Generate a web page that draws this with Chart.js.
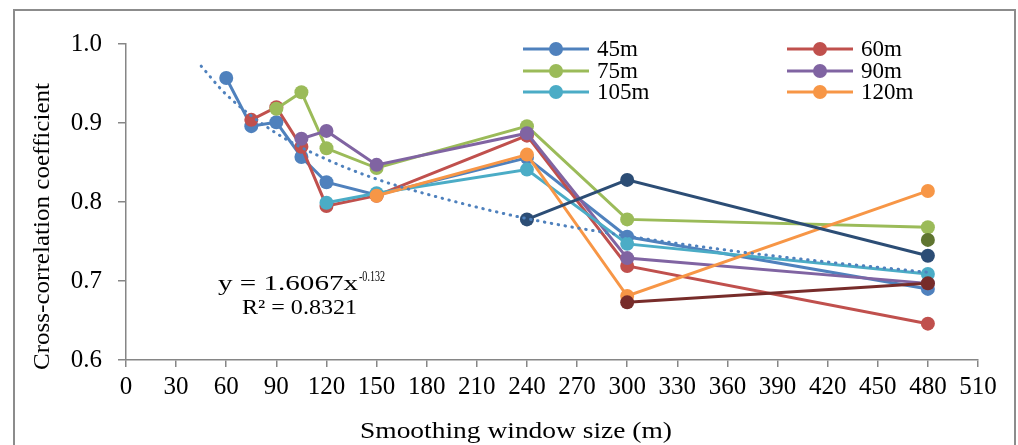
<!DOCTYPE html>
<html>
<head>
<meta charset="utf-8">
<script src="https://cdn.jsdelivr.net/npm/chart.js@4/dist/chart.umd.min.js"></script>
<style>
  body { margin: 0; background: #fff; font-family: "Liberation Serif", serif; }
  #grafico { display: block; }
</style>
</head>
<body>
<canvas id="grafico" width="1018" height="445"></canvas>
<script>
// window sizes (m) on the x axis
const ventanas = [60, 75, 90, 105, 120, 150, 240, 300, 480];

// cross-correlation per DEM resolution, null = not computed
const r45  = [0.957, 0.896, 0.901, 0.857, 0.825, 0.809, 0.856, 0.756, 0.690];
const r60  = [null, 0.904, 0.920, 0.870, 0.795, 0.808, 0.884, 0.719, 0.646];
const r75  = [null, null, 0.918, 0.939, 0.868, 0.843, 0.896, 0.778, 0.768];
const r90  = [null, null, null, 0.880, 0.890, 0.847, 0.887, 0.729, 0.697];
const r105 = [null, null, null, null, 0.799, 0.811, 0.841, 0.747, 0.709];
const r120 = [null, null, null, null, null, 0.808, 0.860, 0.681, 0.814];
const r150 = [null, null, null, null, null, null, 0.778, 0.828, 0.732];
const r240 = [null, null, null, null, null, null, null, 0.673, 0.697];
const r300 = [null, null, null, null, null, null, null, null, 0.752];

const etiquetas = ["45m", "60m", "75m", "90m", "105m", "120m", "150m", "240m", "300m"];
const colores = ["#4F81BD", "#C0504D", "#9BBB59", "#8064A2", "#4BACC6", "#F79646", "#2C4D75", "#772C2A", "#5F7530"];

// power trendline
const trendX = [45, 60, 90, 120, 150, 180, 240, 300, 360, 420, 480];
const trendY = [0.972, 0.936, 0.887, 0.854, 0.829, 0.810, 0.779, 0.757, 0.739, 0.724, 0.711];

const xMin = 0, xMax = 510, xPaso = 30;
const yMin = 0.6, yMax = 1.0, yPaso = 0.1;

const fuente = '"Liberation Serif", "Times New Roman", serif';
const series = [r45, r60, r75, r90, r105, r120, r150, r240, r300];

const datasets = series.map((valores, i) => ({
    label: etiquetas[i],
    data: ventanas.map((x, j) => ({ x: x, y: valores[j] })),
    borderColor: colores[i],
    backgroundColor: colores[i],
    pointBackgroundColor: colores[i],
    pointBorderWidth: 0,
    pointRadius: 7,
    borderWidth: 3,
    spanGaps: false,
    order: 20 - i,
}));

datasets.push({
    label: "trend",
    data: trendX.map((x, j) => ({ x: x, y: trendY[j] })),
    borderColor: "#4F81BD",
    borderWidth: 3,
    borderDash: [0.5, 6.5],
    borderCapStyle: "round",
    pointRadius: 0,
    cubicInterpolationMode: "monotone",
    order: 0,
});

// draw text squeezed/stretched to a given width
const textoAncho = (ctx, texto, x, y, ancho) => {
    const medido = ctx.measureText(texto).width;
    ctx.save();
    ctx.translate(x, y);
    ctx.scale(ancho / medido, 1);
    ctx.fillText(texto, 0, 0);
    ctx.restore();
};

const decoraciones = {
    id: "decoraciones",
    beforeDraw: (chart) => {
        const ctx = chart.ctx;
        ctx.save();
        ctx.fillStyle = "#fff";
        ctx.fillRect(0, 0, chart.width, chart.height);
        ctx.restore();
    },
    afterDraw: (chart) => {
        const ctx = chart.ctx;
        ctx.save();

        // frame
        ctx.strokeStyle = "#8c8c8c";
        ctx.lineWidth = 2;
        ctx.strokeRect(14, 10, 1001, 460);

        ctx.fillStyle = "#000";
        ctx.textAlign = "left";

        // axis titles
        ctx.font = `23px ${fuente}`;
        ctx.textBaseline = "alphabetic";
        textoAncho(ctx, "Smoothing window size (m)", 360, 438, 312);

        ctx.save();
        ctx.translate(49, 370);
        ctx.rotate(-Math.PI / 2);
        textoAncho(ctx, "Cross-correlation coefficient", 0, 0, 287);
        ctx.restore();

        // trendline equation
        ctx.font = `22px ${fuente}`;
        textoAncho(ctx, "y = 1.6067x", 218, 290, 140);
        ctx.font = `14px ${fuente}`;
        textoAncho(ctx, "-0.132", 359, 281, 26);
        ctx.font = `22px ${fuente}`;
        textoAncho(ctx, "R² = 0.8321", 242, 314, 115);

        // legend, two columns
        const columnas = [523, 787];
        const filas = [49, 71, 92];
        ctx.textBaseline = "middle";
        for (let i = 0; i < 6; i++) {
            const x0 = columnas[i % 2];
            const y0 = filas[Math.floor(i / 2)];
            ctx.strokeStyle = colores[i];
            ctx.lineWidth = 3;
            ctx.beginPath();
            ctx.moveTo(x0, y0);
            ctx.lineTo(x0 + 66, y0);
            ctx.stroke();
            ctx.fillStyle = colores[i];
            ctx.beginPath();
            ctx.arc(x0 + 33, y0, 7, 0, Math.PI * 2);
            ctx.fill();
            ctx.fillStyle = "#000";
            ctx.font = `23px ${fuente}`;
            ctx.fillText(etiquetas[i], x0 + 74, y0 + 1);
        }
        ctx.restore();
    },
};

const crearGrafico = () => {
    const ctx = document.querySelector("#grafico").getContext("2d");
    new Chart(ctx, {
        type: "line",
        data: { datasets: datasets },
        plugins: [decoraciones],
        options: {
            responsive: false,
            animation: false,
            devicePixelRatio: 1,
            layout: { padding: { left: 0, right: 40, top: 44, bottom: 0 } },
            plugins: {
                legend: { display: false },
                tooltip: { enabled: false },
            },
            scales: {
                x: {
                    type: "linear",
                    min: xMin,
                    max: xMax,
                    ticks: {
                        stepSize: xPaso,
                        autoSkip: false,
                        maxRotation: 0,
                        color: "#000",
                        padding: 5,
                        font: { family: fuente, size: 25 },
                    },
                    grid: { drawOnChartArea: false, tickLength: 7, color: "#868686", lineWidth: 1.5 },
                    border: { color: "#868686", width: 1.5 },
                    afterFit: (scale) => { scale.height = 85; },
                },
                y: {
                    min: yMin,
                    max: yMax,
                    ticks: {
                        stepSize: yPaso,
                        color: "#000",
                        padding: 16,
                        font: { family: fuente, size: 25 },
                        callback: (v) => v.toFixed(1),
                    },
                    grid: { drawOnChartArea: false, tickLength: 8, color: "#868686", lineWidth: 1.5 },
                    border: { color: "#868686", width: 1.5 },
                    afterFit: (scale) => { scale.width = 126; },
                },
            },
        },
    });
};

document.fonts.load('22px "Liberation Serif"').then(crearGrafico, crearGrafico);
</script>
</body>
</html>
